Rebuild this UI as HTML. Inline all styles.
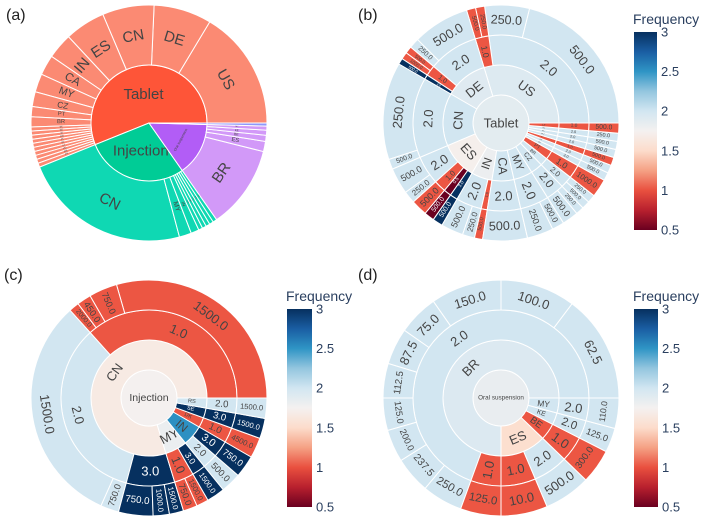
<!DOCTYPE html>
<html><head><meta charset="utf-8"><style>
html,body{margin:0;padding:0;background:#fff;}
svg{display:block;font-family:"Liberation Sans",sans-serif;}
</style></head><body>
<svg id="fig" width="704" height="522" viewBox="0 0 704 522">
<defs>
<linearGradient id="cbgrad" x1="0" y1="1" x2="0" y2="0">
<stop offset="0" stop-color="#6a0020"/><stop offset="0.1" stop-color="#b8202e"/><stop offset="0.2" stop-color="#e9503f"/><stop offset="0.3" stop-color="#f5a184"/><stop offset="0.4" stop-color="#fcdccb"/><stop offset="0.5" stop-color="#f4f1f0"/><stop offset="0.6" stop-color="#d2e6f1"/><stop offset="0.7" stop-color="#94c6df"/><stop offset="0.8" stop-color="#2f95c5"/><stop offset="0.9" stop-color="#1a5ea3"/><stop offset="1" stop-color="#06305f"/>
</linearGradient>
</defs>
<text x="6" y="20" font-size="16" fill="#222">(a)</text>
<text x="358" y="20" font-size="16" fill="#222">(b)</text>
<text x="4" y="280" font-size="16" fill="#222">(c)</text>
<text x="358" y="280" font-size="16" fill="#222">(d)</text>
</svg>
<script>
// ---- Panel (a) data: dosage form -> country, sizes ----
const aCat = ["Tablet","Tablet","Tablet","Tablet","Tablet","Tablet","Tablet","Tablet","Tablet","Tablet","Tablet","Tablet","Tablet","Tablet","Tablet","Tablet","Tablet","Tablet","Tablet","Tablet",
"Injection","Injection","Injection","Injection","Injection","Injection","Injection","Injection",
"Oral suspension","Oral suspension","Oral suspension","Oral suspension","Oral suspension","Capsule"];
const aCountry = ["US","DE","CN","ES","IN","CA","MY","CZ","PT","BR","SK","SE","SI","RO","PL","NL","LT","HU","GR","FR",
"CN","MY","IN","DK","SE","RS","FR","GB",
"BR","ES","BE","KE","MY","US"];
const aSize = [59,28.5,25.5,20,12.6,10,9,7.3,5,5,2,2,2,2,2,2,2,2,2,2,
83,6,4,2,2,2,2,2,
41,5,3,2.5,2,1.5];
const aInnerColors = ["#fe5538","#00cc96","#b25df6","#636efa"];
const aOuterColors = ["#fb8a73","#0fd8b3","#d299f8","#8f97fb"];

// ---- Panel (b) data: Tablet -> country -> frequency -> dose ----
const bCountry = ["US","US","US","US","DE","DE","DE","DE","DE","CN","CN","ES","ES","ES","ES","ES","IN","IN","IN","CA","MY","MY","CZ","CZ","BR","BR","PT","SK","SE","SI","RO","PL","NL","LT"];
const bFreq = [2,2,1,1,2,2,1,1,3,2,2,2,2,1,0.5,3,2,2,1,2,2,2,2,2,2,2,1,2,2,1,2,2,2,1];
const bDose = [500,250,250,500,500,250,500,1000,500,250,500,500,250,500,500,500,500,250,500,500,250,500,500,250,500,250,1000,500,500,500,500,500,250,500];
const bSize = [76,22,4.5,4.5,28,5,3.5,3.5,3,48,5,13,6,8,5,5,11,6,4,22,13,6,8,4,4,4,9,4,4,4,4,4,4,5];

// ---- Panel (c) data: Injection -> country -> frequency -> dose ----
const cCountry = ["CN","CN","CN","CN","CN","CN","CN","CN","CN","MY","MY","MY","IN","IN","DK","SE","RS"];
const cFreq = [1,1,1,1,2,2,3,3,3,1,1,3,2,3,1,3,2];
const cDose = [1500,750,450,2000,1500,750,750,1000,1500,750,1500,1500,500,750,4500,1500,1500];
const cSize = [106,14,7,5,114,9,17,8,7,7,6,9,10,11,10,10,10];

// ---- Panel (d) data: Oral suspension -> country -> frequency -> dose ----
const dCountry = ["BR","BR","BR","BR","BR","BR","BR","BR","BR","BR","BR","ES","ES","BE","KE","MY"];
const dFreq = [2,2,2,2,2,2,2,2,2,2,1,1,2,1,2,2];
const dDose = [62.5,100,150,75,87.5,112.5,125,200,237.5,250,125,10,500,300,125,110];
const dSize = [53,37,35,20,18,17,16,16,18,20,20,23,23,17,12,15];

const cbTicks = [0.5,1,1.5,2,2.5,3];

const NS = "http://www.w3.org/2000/svg";
const svg = document.getElementById("fig");
function mk(tag, parent){ const e=document.createElementNS(NS,tag); parent.appendChild(e); return e; }

const scaleStops = [[0.5,"#6a0020"],[0.75,"#b8202e"],[1.0,"#ec5643"],[1.25,"#f5a184"],[1.5,"#fcdfcf"],[1.75,"#f4f1f0"],[2.0,"#d2e6f1"],[2.25,"#94c6df"],[2.5,"#2f95c5"],[2.75,"#1a5ea3"],[3.0,"#06305f"]];
function hex2rgb(h){return [parseInt(h.substr(1,2),16),parseInt(h.substr(3,2),16),parseInt(h.substr(5,2),16)];}
function colorScale(v){
  v=Math.max(0.5,Math.min(3,v));
  for(let i=0;i<scaleStops.length-1;i++){
    const [v0,c0]=scaleStops[i],[v1,c1]=scaleStops[i+1];
    if(v<=v1){const t=(v-v0)/(v1-v0);const a=hex2rgb(c0),b=hex2rgb(c1);
      return "rgb("+a.map((x,k)=>Math.round(x+(b[k]-x)*t)).join(",")+")";}
  }
  return scaleStops[scaleStops.length-1][1];
}
function lum(c){let r,g,b; if(c[0]==="#"){[r,g,b]=hex2rgb(c);} else {[r,g,b]=c.match(/\d+/g).map(Number);} return (0.299*r+0.587*g+0.114*b)/255;}

function pt(cx,cy,r,a){const t=a*Math.PI/180;return [cx+r*Math.cos(t),cy-r*Math.sin(t)];}
function sectorPath(cx,cy,r0,r1,a0,a1){
  const large=(a1-a0)>180?1:0;
  const p1=pt(cx,cy,r1,a0),p2=pt(cx,cy,r1,a1);
  if(r0===0){
    return `M${cx},${cy}L${p1[0]},${p1[1]}A${r1},${r1} 0 ${large} 0 ${p2[0]},${p2[1]}Z`;
  }
  const q1=pt(cx,cy,r0,a1),q2=pt(cx,cy,r0,a0);
  return `M${q2[0]},${q2[1]}L${p1[0]},${p1[1]}A${r1},${r1} 0 ${large} 0 ${p2[0]},${p2[1]}L${q1[0]},${q1[1]}A${r0},${r0} 0 ${large} 1 ${q2[0]},${q2[1]}Z`;
}
function norm(r){while(r>90)r-=180;while(r<=-90)r+=180;return r;}

function buildTree(paths,sizes,freqs){
  const root={label:null,children:[],value:0,wsum:0};
  paths.forEach((p,i)=>{
    let node=root; node.value+=sizes[i]; node.wsum+=(freqs?freqs[i]:0)*sizes[i];
    p.forEach(lab=>{
      let ch=node.children.find(c=>c.label===lab);
      if(!ch){ch={label:lab,children:[],value:0,wsum:0};node.children.push(ch);}
      ch.value+=sizes[i]; ch.wsum+=(freqs?freqs[i]:0)*sizes[i]; node=ch;
    });
  });
  return root;
}

function addLabel(g,cx,cy,r0,r1,a0,a1,txt,color,base,name,radThr){
  const n=txt.length, cw=0.58;
  const am=(a0+a1)/2, dA=(a1-a0)*Math.PI/180;
  const t=document.createElementNS(NS,"text");
  let x,y,rot,fs;
  if(r0===0){
    if(a1-a0>=80){
      const rm=r1*0.5; [x,y]=pt(cx,cy,rm,am);
      fs=Math.min(base,(r1*1.7)/(cw*n)); rot=0;
    } else {
      const rm=r1*0.62, L=rm*dA; [x,y]=pt(cx,cy,rm,am);
      fs=Math.min(base,L*0.9/(cw*n)); rot=norm(90-am);
    }
  } else {
    const rm=(r0+r1)/2, T=r1-r0, L=rm*dA;
    [x,y]=pt(cx,cy,rm,am);
    const ftU=Math.min(L*0.92/(cw*n),T*0.7,L*0.8);
    const frU=Math.min(T*0.88/(cw*n),L*0.75);
    if((a1-a0)<radThr){fs=Math.min(base,frU);rot=norm(-am);}
    else if(ftU>=0.9*frU){fs=Math.min(base,ftU);rot=norm(90-am);}
    else {fs=Math.min(base,frU);rot=norm(-am);}
  }
  if(fs<2.2) return;
  t.setAttribute("x",0);t.setAttribute("y",0);
  t.setAttribute("transform",`translate(${x.toFixed(2)},${y.toFixed(2)}) rotate(${rot.toFixed(2)})`);
  t.setAttribute("font-size",fs.toFixed(2));
  t.setAttribute("text-anchor","middle");
  t.setAttribute("dominant-baseline","central");
  t.setAttribute("fill",color);
  
  
  t.textContent=txt;
  g.appendChild(t);
}

function drawSunburst(panelName,cx,cy,radii,root,rootLabel,fillFn,base,fmt,thr){
  const g=mk("g",svg);
  
  
  const total=root.value;
  let depthOffset=0;
  if(rootLabel){
    const c=mk("circle",g);
    c.setAttribute("cx",cx);c.setAttribute("cy",cy);c.setAttribute("r",radii[1]);
    const fc=fillFn(root,0,0);
    c.setAttribute("fill",fc);c.setAttribute("stroke","#fff");c.setAttribute("stroke-width","1");
    
    
    const t=mk("text",g);
    const fs=Math.min(base,(radii[1]*1.9)/(0.56*rootLabel.length));
    t.setAttribute("x",cx);t.setAttribute("y",cy);t.setAttribute("font-size",fs.toFixed(2));
    t.setAttribute("text-anchor","middle");t.setAttribute("dominant-baseline","central");
    t.setAttribute("fill",lum(fc)<0.45?"#fff":"#444");
    
    
    t.textContent=rootLabel;
    depthOffset=1;
  }
  function rec(node,depth,a0,idx){
    let a=a0;
    node.children.forEach((ch,i)=>{
      const span=ch.value/total*360;
      const r0=radii[depth+depthOffset],r1=radii[depth+depthOffset+1];
      const fc=fillFn(ch,depth,idx===undefined?i:idx);
      const p=mk("path",g);
      p.setAttribute("d",sectorPath(cx,cy,r0,r1,a,a+span));
      p.setAttribute("fill",fc);p.setAttribute("stroke","#fff");p.setAttribute("stroke-width","1");
      
      
      addLabel(g,cx,cy,r0,r1,a,a+span,fmt(ch.label,depth),lum(fc)<0.45?"#fff":"#444",base,panelName+"-sector",thr[depth]||0);
      if(ch.children.length) rec(ch,depth+1,a,idx===undefined?i:idx);
      a+=span;
    });
  }
  rec(root,0,0,undefined);
}

// Panel a
const aRoot=buildTree(aCat.map((c,i)=>[c,aCountry[i]]),aSize,null);
drawSunburst("sunburst-a",149,123,[0,58,118],aRoot,null,(n,d,i)=>d===0?aInnerColors[i]:aOuterColors[i],15,(l)=>l,[0,11.5]);

const fmtLvl=(l,d)=>d===0?l:Number(l).toFixed(1);
const freqFill=(n)=>colorScale(n.wsum/n.value);

const bRoot=buildTree(bCountry.map((c,i)=>[c,bFreq[i],bDose[i]]),bSize,bFreq);
drawSunburst("sunburst-b",501,123,[0,28,58,88,118],bRoot,"Tablet",freqFill,13,fmtLvl,[22.5,0,0]);

const cRoot=buildTree(cCountry.map((c,i)=>[c,cFreq[i],cDose[i]]),cSize,cFreq);
drawSunburst("sunburst-c",149,398,[0,28,58,88,118],cRoot,"Injection",freqFill,13,fmtLvl,[21.5,0,0]);

const dRoot=buildTree(dCountry.map((c,i)=>[c,dFreq[i],dDose[i]]),dSize,dFreq);
drawSunburst("sunburst-d",501,398,[0,28,58,88,118],dRoot,"Oral suspension",freqFill,13,fmtLvl,[20,0,0]);

// Colorbars
function colorbar(name,x,y0,w,h){
  const g=mk("g",svg);
  
  
  const r=mk("rect",g);
  r.setAttribute("x",x);r.setAttribute("y",y0);r.setAttribute("width",w);r.setAttribute("height",h);
  r.setAttribute("fill","url(#cbgrad)");
  
  
  const tt=mk("text",g);
  tt.setAttribute("x",x-1);tt.setAttribute("y",y0-8);tt.setAttribute("font-size","14");tt.setAttribute("fill","#2a3f5f");
  
  
  tt.textContent="Frequency";
  cbTicks.forEach(v=>{
    const yy=y0+h-(v-0.5)/2.5*h;
    const t=mk("text",g);
    t.setAttribute("x",x+w+4);t.setAttribute("y",yy);t.setAttribute("font-size","13");t.setAttribute("fill","#2a3f5f");
    t.setAttribute("dominant-baseline","central");
    
    
    t.textContent=String(v);
  });
}
colorbar("colorbar-b",634,32,23,198);
colorbar("colorbar-c",287,309,25,198);
colorbar("colorbar-d",634,309,24,198);
</script>
</body></html>
